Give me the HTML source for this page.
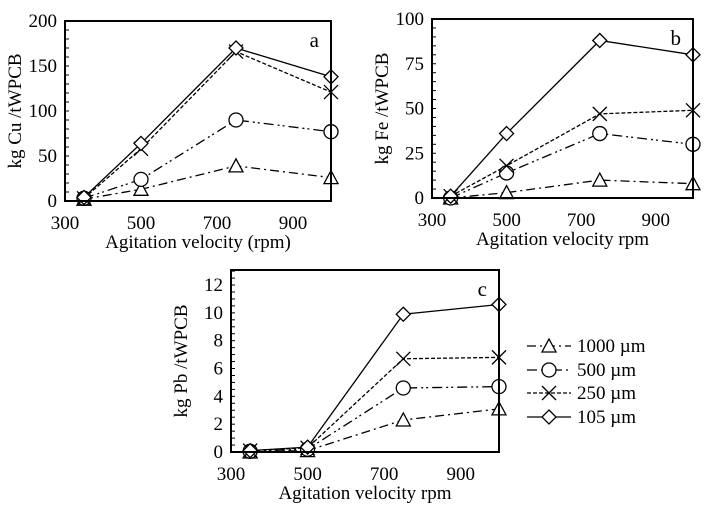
<!DOCTYPE html>
<html><head><meta charset="utf-8">
<style>
html,body{margin:0;padding:0;background:#fff;}
svg{display:block;font-family:"Liberation Serif",serif;}
</style></head>
<body>
<svg id="fig" width="721" height="506" viewBox="0 0 721 506" xmlns="http://www.w3.org/2000/svg"></svg>
<script>
const xCats = [350, 500, 750, 1000];
const seriesNames = ["1000 µm", "500 µm", "250 µm", "105 µm"];
const cu1000 = [2, 13, 39, 26];
const cu500 = [3, 24, 90, 77];
const cu250 = [3, 58, 166, 121];
const cu105 = [4, 64, 170, 138];
const fe1000 = [0, 3, 10, 8];
const fe500 = [0, 14, 36, 30];
const fe250 = [1, 18, 47, 49];
const fe105 = [1, 36, 88, 80];
const pb1000 = [0, 0.1, 2.3, 3.1];
const pb500 = [0.05, 0.2, 4.6, 4.7];
const pb250 = [0.1, 0.3, 6.7, 6.8];
const pb105 = [0.1, 0.35, 9.9, 10.6];
const xTicks = [300, 500, 700, 900];
const yTicksA = [0, 50, 100, 150, 200];
const yTicksB = [0, 25, 50, 75, 100];
const yTicksC = [0, 2, 4, 6, 8, 10, 12];

const NS = "http://www.w3.org/2000/svg";
const svg = document.getElementById('fig');
const FS = 19;
function mk(tag, attrs, parent, text){
  const e = document.createElementNS(NS, tag);
  for (const k in attrs) e.setAttribute(k, attrs[k]);
  if (text !== undefined) e.textContent = text;
  (parent || svg).appendChild(e);
  return e;
}
const dashes = ["9,4,2,4", "10,4,2,3,2,4", "4,2", "none"];
const markers = ["tri", "circ", "x", "dia"];

function marker(g, type, x, y){
  let m;
  if (type === "tri") m = mk('polygon', {points:`${x-7},${y+6} ${x+7},${y+6} ${x},${y-7}`, fill:'#fff', stroke:'#000', 'stroke-width':1.3}, g);
  else if (type === "circ") m = mk('circle', {cx:x, cy:y, r:7, fill:'#fff', stroke:'#000', 'stroke-width':1.3}, g);
  else if (type === "dia") m = mk('polygon', {points:`${x},${y-7} ${x+7},${y} ${x},${y+7} ${x-7},${y}`, fill:'#fff', stroke:'#000', 'stroke-width':1.3}, g);
  else m = mk('path', {d:`M${x-7},${y-7}L${x+7},${y+7}M${x-7},${y+7}L${x+7},${y-7}`, stroke:'#000', 'stroke-width':1.3, fill:'none'}, g);
  
  
}

function panel(id, box, yMax, yTicks, minorStep, yLabel, xLabel, letter, series){
  const g = mk('g', {});
  
  
  const xs = v => box.l + (v - 300) / 700 * (box.r - box.l);
  const ys = v => box.b - v / yMax * (box.b - box.t);
  for (let v = 0; v <= yMax + 1e-9; v += minorStep) {
    const t = mk('line', {x1:box.l, x2:box.l+4, y1:ys(v), y2:ys(v), stroke:'#000', 'stroke-width':1}, g);
    
    
  }
  yTicks.forEach(v => {
    const t = mk('text', {x:box.l-8, y:ys(v)+6, 'text-anchor':'end', 'font-size':FS}, g, String(v));
    
    
  });
  xTicks.forEach(v => {
    const t = mk('text', {x:xs(v), y:box.b+28, 'text-anchor':'middle', 'font-size':FS}, g, String(v));
    
    
  });
  series.forEach((vals, i) => {
    const pts = vals.map((v, j) => xs(xCats[j]) + ',' + ys(v)).join(' ');
    const ln = mk('polyline', {points:pts, fill:'none', stroke:'#000', 'stroke-width':1.3, 'stroke-dasharray':dashes[i]}, g);
    
    
  });
  series.forEach((vals, i) => vals.forEach((v, j) => marker(g, markers[i], xs(xCats[j]), ys(v))));
  const fr = mk('rect', {x:box.l, y:box.t, width:box.r-box.l, height:box.b-box.t, fill:'none', stroke:'#000', 'stroke-width':2}, g);
  
  
  const lt = mk('text', {x:box.r-12, y:box.t+26, 'text-anchor':'end', 'font-size':21}, g, letter);
  
  
  const xl = mk('text', {x:(box.l+box.r)/2, y:box.b+47, 'text-anchor':'middle', 'font-size':FS}, g, xLabel);
  
  
  const cy = (box.t+box.b)/2;
  const yl = mk('text', {x:0, y:0, transform:`translate(${box.l-44},${cy}) rotate(-90)`, 'text-anchor':'middle', 'font-size':FS}, g, yLabel);
  
  
}

panel('cu', {l:65, r:331, t:21, b:201}, 200, yTicksA, 10, "kg Cu /tWPCB", "Agitation velocity (rpm)", "a", [cu1000, cu500, cu250, cu105]);
panel('fe', {l:432, r:693, t:19, b:198}, 100, yTicksB, 5, "kg Fe /tWPCB", "Agitation velocity rpm", "b", [fe1000, fe500, fe250, fe105]);
panel('pb', {l:231, r:499, t:270, b:452}, 13.08, yTicksC, 0.5, "kg Pb /tWPCB", "Agitation velocity rpm", "c", [pb1000, pb500, pb250, pb105]);

const lg = mk('g', {});


const legY = [346, 370, 393, 417];
seriesNames.forEach((n, i) => {
  const e = mk('g', {}, lg);
  
  
  mk('line', {x1:527, x2:571, y1:legY[i], y2:legY[i], stroke:'#000', 'stroke-width':1.3, 'stroke-dasharray':dashes[i]}, e);
  marker(e, markers[i], 549, legY[i]);
  mk('text', {x:577, y:legY[i]+6, 'font-size':FS}, e, n);
});
</script>
</body></html>
